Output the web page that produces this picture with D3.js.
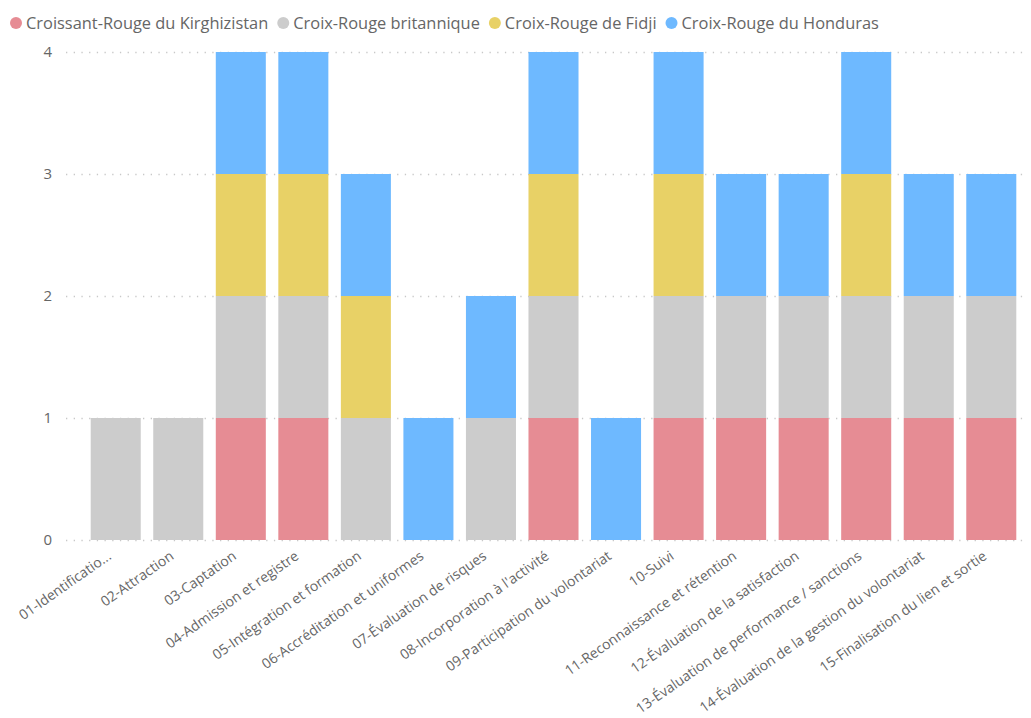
<!DOCTYPE html>
<html>
<head>
<meta charset="utf-8">
<script src="https://cdn.jsdelivr.net/npm/d3@7"></script>
<style>
  html, body { margin: 0; padding: 0; background: #fff; }
  svg { display: block; font-family: "Open Sans", "Noto Sans", sans-serif; }
</style>
</head>
<body>
<svg id="chart" width="1031" height="718"></svg>
<script>
const categories = [
  "01-Identificatio...",
  "02-Attraction",
  "03-Captation",
  "04-Admission et registre",
  "05-Intégration et formation",
  "06-Accréditation et uniformes",
  "07-Évaluation de risques",
  "08-Incorporation à l'activité",
  "09-Participation du volontariat",
  "10-Suivi",
  "11-Reconnaissance et rétention",
  "12-Évaluation de la satisfaction",
  "13-Évaluation de performance / sanctions",
  "14-Évaluation de la gestion du volontariat",
  "15-Finalisation du lien et sortie"
];
const seriesNames = [
  "Croissant-Rouge du Kirghizistan",
  "Croix-Rouge britannique",
  "Croix-Rouge de Fidji",
  "Croix-Rouge du Honduras"
];
const kirghizistan = [0, 0, 1, 1, 0, 0, 0, 1, 0, 1, 1, 1, 1, 1, 1];
const britannique  = [1, 1, 1, 1, 1, 0, 1, 1, 0, 1, 1, 1, 1, 1, 1];
const fidji        = [0, 0, 1, 1, 1, 0, 0, 1, 0, 1, 0, 0, 1, 0, 0];
const honduras     = [0, 0, 1, 1, 1, 1, 1, 1, 1, 1, 1, 1, 1, 1, 1];
const yTicks = [0, 1, 2, 3, 4];
const colors = ["#E68C94", "#CCCCCC", "#E8D166", "#6EB9FF"];

const seriesValues = [kirghizistan, britannique, fidji, honduras];
const rows = categories.map((c, i) => {
  const r = { cat: c };
  seriesNames.forEach((s, j) => r[s] = seriesValues[j][i]);
  return r;
});

const FONT = '"Open Sans", "Noto Sans", sans-serif';
const svg = d3.select("#chart");
const x = d3.scaleBand().domain(categories).range([66, 1041]).paddingInner(0.2).paddingOuter(0.395);
const y = d3.scaleLinear().domain([0, 4]).range([540, 52]);

// gridlines + y axis
const yAxis = d3.axisLeft(y).tickValues(yTicks).tickFormat(d3.format("d")).tickSize(-(1025 - 66)).tickPadding(14);
const gy = svg.append("g").attr("transform", "translate(66,0)").call(yAxis)
  .attr("font-family", FONT).attr("font-size", 15);
gy.select(".domain").remove();
gy.selectAll(".tick line").attr("stroke", "#c8c8c8").attr("stroke-width", 1.3).attr("stroke-dasharray", "1.3 6.4");
gy.selectAll(".tick text").attr("fill", "#666").attr("x", -14);

// stacked bars
const stack = d3.stack().keys(seriesNames)(rows);
svg.append("g").selectAll("g").data(stack).join("g")
  .attr("fill", (d, i) => colors[i])
  .selectAll("rect").data(d => d.filter(p => p[1] - p[0] > 0)).join("rect")
  .attr("x", d => x(d.data.cat))
  .attr("width", x.bandwidth())
  .attr("y", d => y(d[1]))
  .attr("height", d => y(d[0]) - y(d[1]));

// x axis labels
const xAxis = d3.axisBottom(x).tickSize(0).tickPadding(0);
const gx = svg.append("g").attr("transform", "translate(0,549)").call(xAxis)
  .attr("font-family", FONT).attr("font-size", 14);
gx.select(".domain").remove();
gx.selectAll(".tick text")
  .attr("fill", "#666")
  .attr("text-anchor", "end")
  .attr("x", 0).attr("y", 0).attr("dy", "0.8em")
  .attr("transform", "translate(-10,0) rotate(-35)");

// legend
const lg = svg.append("g").attr("transform", "translate(0,23)");
let lx = 16;
seriesNames.forEach((s, i) => {
  lg.append("circle").attr("cx", lx).attr("cy", 0).attr("r", 6).attr("fill", colors[i]);
  const t = lg.append("text").attr("x", lx + 10).attr("y", 0).attr("dy", "0.35em")
    .attr("fill", "#666").style("font-size", "16.4px").text(s);
  lx = lx + 10 + t.node().getComputedTextLength() + 15;
});
</script>
</body>
</html>
